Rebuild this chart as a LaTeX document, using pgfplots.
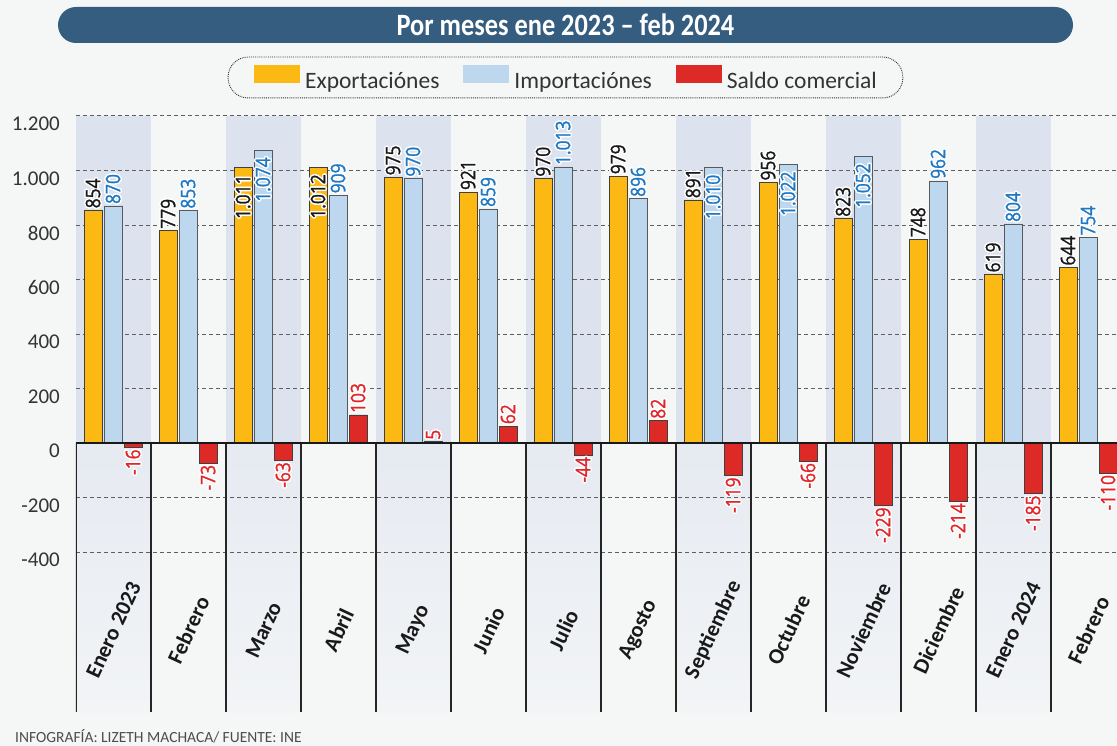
\documentclass[border=0pt]{standalone}
\usepackage{fontspec}
\setmainfont{Carlito}
\newfontfamily\numfont[FakeStretch=0.87,FakeBold=1.2]{Open Sans}
\newfontfamily\titlefont[FakeStretch=0.85]{Carlito}
\usepackage{pgfplots}
\pgfplotsset{compat=1.18}
\usepackage{pgfplotstable}
\usepackage{contour}
\contourlength{1.4pt}
\contournumber{16}

\definecolor{bgc}{RGB}{245,246,246}
\definecolor{shadec}{RGB}{220,226,238}
\definecolor{lowtop}{RGB}{230,234,241}
\definecolor{lowbot}{RGB}{242,244,246}
\definecolor{expc}{RGB}{253,185,19}
\definecolor{impc}{RGB}{189,215,238}
\definecolor{salc}{RGB}{221,42,39}
\definecolor{impt}{RGB}{30,120,196}
\definecolor{salt}{RGB}{224,38,42}
\definecolor{titc}{RGB}{53,93,128}
\definecolor{gridc}{RGB}{95,95,95}

% label layout: text above the bar end, below it (negative), or inside the top (prefix i)
\newcommand\labup[1]{\makebox[0pt][l]{\hspace{2pt}\raisebox{-.36em}[0pt][0pt]{\contour{white}{#1}}}}
\newcommand\labdown[2]{\makebox[0pt][r]{\raisebox{-.36em}[0pt][0pt]{\contour{white}{#1}}\hspace{#2}}}
\def\barlab#1{\edef\tmplab{#1}\expandafter\barlabi\tmplab\relax}
\def\barlabi#1#2\relax{%
  \ifx-#1\labdown{#1#2}{2pt}%
  \else\ifx i#1\labdown{#2}{7pt}%
  \else\labup{#1#2}\fi\fi}

% Exportaciones
\pgfplotstableread{
x y lab
0 854 854
1 779 779
2 1011 i1.011
3 1012 i1.012
4 975 975
5 921 921
6 970 970
7 979 979
8 891 891
9 956 956
10 823 823
11 748 748
12 619 619
13 644 644
}\exptab

% Importaciones
\pgfplotstableread{
x y lab
0 870 870
1 853 853
2 1074 i1.074
3 909 909
4 970 970
5 859 859
6 1013 1.013
7 896 896
8 1010 i1.010
9 1022 i1.022
10 1052 i1.052
11 962 962
12 804 804
13 754 754
}\imptab

% Saldo comercial
\pgfplotstableread{
x y lab
0 -16 -16
1 -73 -73
2 -63 -63
3 103 103
4 5 5
5 62 62
6 -44 -44
7 82 82
8 -119 -119
9 -66 -66
10 -229 -229
11 -214 -214
12 -185 -185
13 -110 -110
}\saltab

\pgfplotsset{mylegend/.style={legend image code/.code={\fill[##1,draw=none,sharp corners,solid] (0pt,-2pt) rectangle (46pt,16pt);}}}

\begin{document}
\begin{tikzpicture}
\fill[bgc] (0pt,0pt) rectangle (1117pt,-746pt);
\fill[titc, rounded corners=18pt] (58pt,-7pt) rectangle (1073pt,-43pt);
\node[text=white, font=\titlefont\bfseries\fontsize{31}{31}\selectfont] at (565.5pt,-25pt) {Por meses ene 2023 – feb 2024};
\node[anchor=base west, inner sep=0pt, text=black!70, font=\fontsize{15.5}{15.5}\selectfont] at (15pt,-742pt) {INFOGRAFÍA: LIZETH MACHACA/ FUENTE: INE};

\begin{axis}[
  at={(76pt,-712pt)}, anchor=south west,
  scale only axis, width=1041pt, height=596pt,
  xmin=-0.5, xmax=13.38, ymin=-987, ymax=1200,
  axis on top,
  axis line style={draw=none},
  major tick length=0pt,
  ybar, bar width=18pt,
  ytick={-400,-200,0,200,400,600,800,1000,1200},
  yticklabels={-400,-200,0,200,400,600,800,1.000,1.200},
  yticklabel style={font=\fontsize{21}{21}\selectfont, text=black!80, inner sep=0pt, xshift=-16pt, yshift=-8pt, anchor=east},
  xtick={0,...,13},
  xticklabels={Enero 2023,Febrero,Marzo,Abril,Mayo,Junio,Julio,Agosto,Septiembre,Octubre,Noviembre,Diciembre,Enero 2024,Febrero},
  xticklabel style={font=\bfseries\fontsize{22}{22}\selectfont, text=black!90, inner sep=0pt, yshift=82pt, rotate=65, anchor=center},
  point meta=explicit symbolic,
  nodes near coords={\barlab{\pgfplotspointmeta}},
  every node near coord/.append style={rotate=90, inner sep=0pt, outer sep=0pt, font=\numfont\fontsize{20}{20}\selectfont},
  legend style={at={(0.4702,1.0646)}, anchor=center, draw=black!80, densely dotted, line width=0.9pt, rounded corners=20pt, fill=none, legend columns=3, font=\fontsize{23.5}{23.5}\selectfont, text=black!80, nodes={inner sep=0pt}, inner xsep=26pt, inner ysep=8pt, /tikz/every odd column/.append style={column sep=5pt}, /tikz/every even column/.append style={column sep=24pt}},
]
\pgfplotsinvokeforeach{0,2,4,6,8,10,12}{
  \fill[shadec] (axis cs:#1-0.5,0) rectangle (axis cs:#1+0.5,1200);
  \shade[top color=lowtop, bottom color=lowbot] (axis cs:#1-0.5,-987) rectangle (axis cs:#1+0.5,0);
}
\pgfplotsinvokeforeach{1200,1000,800,600,400,200,-200,-400}{
  \draw[gridc, line width=1pt, dash pattern=on 4pt off 3pt] (axis cs:-0.5,#1) -- (axis cs:13.38,#1);
}
\pgfplotsinvokeforeach{0,...,13}{
  \draw[black!85, line width=2pt] (axis cs:#1-0.5,0) -- (axis cs:#1-0.5,-987);
}
\addplot[fill=expc, draw=black!75, line width=0.7pt, bar shift=-20pt, mylegend,
  every node near coord/.append style={text=black!90}] table[x=x,y=y,meta=lab]{\exptab};
\addlegendentry{Exportaciónes}
\addplot[fill=impc, draw=black!65, line width=0.7pt, bar shift=0pt, mylegend,
  every node near coord/.append style={text=impt}] table[x=x,y=y,meta=lab]{\imptab};
\addlegendentry{Importaciónes}
\addplot[fill=salc, draw=black!75, line width=0.7pt, bar shift=20pt, mylegend,
  every node near coord/.append style={text=salt}] table[x=x,y=y,meta=lab]{\saltab};
\addlegendentry{Saldo comercial}
\draw[black!90, line width=2pt] (axis cs:-0.5,0) -- (axis cs:13.38,0);
\end{axis}
\pgfresetboundingbox
\path[use as bounding box] (0pt,0pt) rectangle (1117pt,-746pt);
\end{tikzpicture}
\end{document}
